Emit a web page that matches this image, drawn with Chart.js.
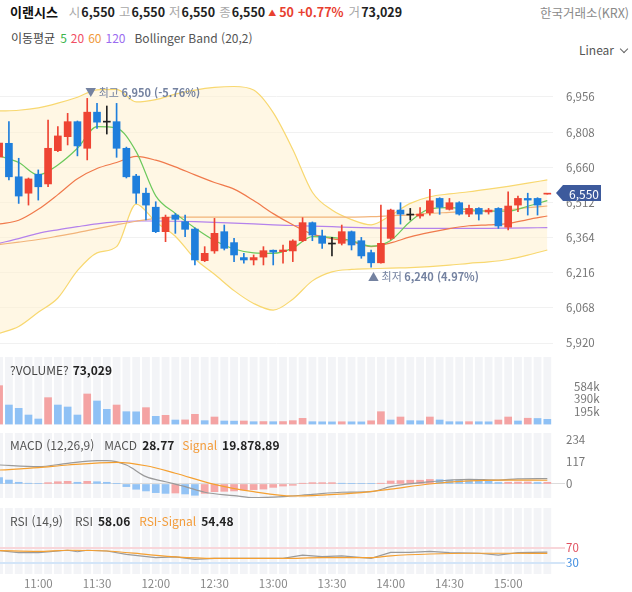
<!DOCTYPE html>
<html lang="ko">
<head>
<meta charset="utf-8">
<title>이랜시스</title>
<script src="https://cdn.jsdelivr.net/npm/chart.js@4.4.1/dist/chart.umd.min.js"></script>
<style>
  body { margin: 0; background: #fff; }
  #wrap { position: relative; width: 632px; height: 592px; overflow: hidden; font-family: 'Noto Sans CJK KR', 'Noto Sans', sans-serif; }
  #wrap canvas { position: absolute; left: 0; }
  .t { position: absolute; white-space: nowrap; line-height: 16px; font-size: 12px; color: #444; }
  .t span { display: inline-block; }
  .b { font-weight: bold; color: #222; }
  .g { color: #a8a8a8; }
  .up { color: #e8402f; font-weight: bold; }
  .o { color: #f39c3a; }
  .chev { display: inline-block; width: 5px; height: 5px; border-right: 1px solid #666; border-bottom: 1px solid #666; transform: rotate(45deg); margin: 0 0 3px 7px; }
</style>
</head>
<body>
<div id="wrap">
  <canvas id="price" width="632" height="297" style="top:58px"></canvas>
  <canvas id="vol" width="632" height="68" style="top:357px"></canvas>
  <canvas id="macd" width="632" height="65" style="top:433px"></canvas>
  <canvas id="rsi" width="632" height="84" style="top:508px"></canvas>

  <div class="t" style="left:10px;top:4px;font-size:12.5px">
    <span class="b" style="color:#111;font-size:13px">이랜시스</span><span class="g" style="margin-left:11px">시</span><span class="b" style="margin-left:1px">6,550</span><span class="g" style="margin-left:4px">고</span><span class="b" style="margin-left:1px">6,550</span><span class="g" style="margin-left:4px">저</span><span class="b" style="margin-left:1px">6,550</span><span class="g" style="margin-left:4px">종</span><span class="b" style="margin-left:1px">6,550</span><span class="up" style="margin-left:3px;font-size:8px;vertical-align:1px">▲</span><span class="up" style="margin-left:3px">50</span><span class="up" style="margin-left:4px">+0.77%</span><span class="g" style="margin-left:5px">거</span><span class="b" style="margin-left:1px">73,029</span>
  </div>
  <div class="t" style="left:540px;top:5px;color:#8a8a8a;font-size:12.5px">한국거래소(KRX)</div>

  <div class="t" style="left:11px;top:30px">
    <span style="color:#444">이동평균</span><span style="margin-left:5px;color:#3cb44b">5</span><span style="margin-left:4px;color:#f04e64">20</span><span style="margin-left:4px;color:#f09a3c">60</span><span style="margin-left:4px;color:#9b6cf0">120</span><span style="margin-left:9px;color:#555">Bollinger Band (20,2)</span>
  </div>
  <div class="t" style="left:579px;top:42px;color:#555">Linear<span class="chev"></span></div>

  <div class="t" style="left:10px;top:362px">
    <span style="color:#444">?VOLUME?</span><span class="b" style="margin-left:4px">73,029</span>
  </div>

  <div class="t" style="left:10px;top:437px">
    <span style="color:#555">MACD (12,26,9)</span><span style="margin-left:10px;color:#555">MACD</span><span class="b" style="margin-left:5px">28.77</span><span class="o" style="margin-left:8px">Signal</span><span class="b" style="margin-left:5px">19.878.89</span>
  </div>

  <div class="t" style="left:10px;top:513px">
    <span style="color:#555">RSI (14,9)</span><span style="margin-left:12px;color:#555">RSI</span><span class="b" style="margin-left:5px">58.06</span><span class="o" style="margin-left:9px">RSI-Signal</span><span class="b" style="margin-left:5px">54.48</span>
  </div>
</div>

<script>
// 5분봉, 10:40 ~ 15:20
const times = ['10:40','10:45','10:50','10:55','11:00','11:05','11:10','11:15','11:20','11:25',
  '11:30','11:35','11:40','11:45','11:50','11:55','12:00','12:05','12:10','12:15',
  '12:20','12:25','12:30','12:35','12:40','12:45','12:50','12:55','13:00','13:05',
  '13:10','13:15','13:20','13:25','13:30','13:35','13:40','13:45','13:50','13:55',
  '14:00','14:05','14:10','14:15','14:20','14:25','14:30','14:35','14:40','14:45',
  '14:50','14:55','15:00','15:05','15:10','15:15','15:20'];
const timeTicks = ['11:00','11:30','12:00','12:30','13:00','13:30','14:00','14:30','15:00'];

const opens  = [6703,6761,6620,6551,6631,6590,6730,6789,6852,6740,6892,6850,6852,6740,6623,6551,6492,6389,6459,6431,
                6400,6267,6308,6389,6343,6280,6270,6282,6311,6305,6308,6351,6427,6371,6337,6340,6389,6351,6301,6258,
                6361,6480,6459,6455,6469,6529,6483,6511,6463,6487,6472,6487,6408,6501,6529,6529,6547];
const highs  = [6901,6852,6698,6615,6649,6859,6831,6887,6855,6950,6929,6918,6929,6745,6630,6572,6515,6459,6466,6459,
                6405,6326,6445,6417,6361,6298,6291,6326,6312,6333,6355,6448,6430,6396,6365,6417,6392,6365,6312,6501,
                6484,6511,6487,6490,6567,6532,6529,6515,6501,6490,6487,6490,6557,6539,6551,6532,6550];
const lows   = [6607,6607,6508,6501,6522,6578,6726,6754,6708,6691,6824,6800,6702,6615,6508,6438,6385,6347,6382,6368,
                6249,6263,6298,6312,6263,6256,6249,6249,6249,6256,6263,6347,6351,6319,6287,6333,6312,6277,6240,6256,
                6356,6421,6438,6446,6459,6462,6480,6459,6452,6438,6463,6403,6396,6473,6459,6459,6547];
const closes = [6762,6620,6539,6611,6578,6740,6792,6852,6750,6892,6850,6850,6740,6620,6551,6501,6389,6450,6441,6399,
                6270,6298,6382,6319,6291,6270,6280,6309,6303,6312,6350,6427,6375,6340,6337,6389,6333,6287,6258,6340,
                6480,6463,6459,6463,6519,6492,6511,6463,6487,6463,6480,6413,6497,6529,6522,6501,6550];
const volumes = [598000,296000,244000,140000,78000,411000,296000,265000,140000,468000,
                 359000,229000,296000,192000,190000,255000,120000,135000,62000,64000,
                 151000,52000,109000,47000,45000,47000,36000,38000,36000,38000,
                 52000,88000,36000,34000,33000,35000,34000,33000,50000,192000,
                 62000,109000,52000,50000,109000,62000,36000,35000,36000,35000,
                 34000,62000,109000,47000,90000,86000,73029];

const priceTicks = [5920,6068,6216,6364,6512,6660,6808,6956];

// 이동평균 / 볼린저 밴드 (2봉 간격 표본)
const maIdx = [0,2,4,6,8,10,12,14,16,18,20,22,24,26,28,30,32,34,36,38,40,42,44,46,48,50,52,54,56];
const ma5   = [6708,6680,6628,6670,6740,6831,6825,6726,6540,6466,6405,6352,6316,6300,6298,6320,6368,6365,6352,6328,6352,6432,6485,6490,6482,6475,6475,6496,6520];
const ma20  = [6421,6437,6483,6545,6612,6655,6680,6706,6690,6662,6628,6596,6568,6520,6465,6418,6379,6360,6347,6326,6342,6367,6386,6402,6414,6418,6423,6440,6455];
const ma60  = [6335,6345,6356,6370,6385,6402,6418,6433,6445,6450,6450,6450,6450,6450,6450,6450,6450,6450,6450,6452,6456,6460,6466,6470,6474,6478,6482,6490,6497];
const ma120 = [6340,6360,6382,6397,6410,6422,6430,6434,6434,6433,6431,6428,6425,6422,6418,6415,6412,6410,6407,6405,6404,6403,6403,6403,6403,6403,6404,6405,6406];
const bbUpper = [6897,6900,6910,6930,6955,6986,6988,6935,6945,6968,6985,6996,7000,6985,6890,6735,6555,6480,6440,6418,6458,6508,6536,6548,6557,6568,6580,6593,6607];
const bbLower = [5961,5990,6050,6110,6225,6300,6326,6505,6430,6370,6275,6210,6141,6087,6059,6105,6182,6220,6230,6233,6236,6238,6242,6248,6256,6262,6272,6290,6312];

const macdHist = [34,21,9,4,3,7,12,14,9,14,12,9,2,-14,-28,-37,-46,-50,-48,-53,
                  -60,-50,-41,-39,-37,-32,-30,-27,-18,-11,-7,4,7,7,7,4,3.5,3,2,4,
                  16,18,20,20,24,23,21,20,18,16,14,8,9,10,10.5,8,8.89];
const macdIdx  = [0,4,7,10,11,13,15,17,19,21,24,26,29,32,35,38,40,44,48,51,53,56];
const macdLine = [101,92,110,124,124,101,39,12,-14,-44,-62,-73,-67,-55,-44,-41,-14,12,25,21,27,28.77];
const signalIdx  = [0,4,7,12,15,18,22,26,30,33,37,40,44,48,51,56];
const signalLine = [74,87,101,115,97,57,-2,-41,-64,-59,-46,-27,0,16,21,19.88];

const rsiIdx  = [0,2,4,7,8,9,11,13,16,18,20,22,26,29,31,33,35,38,40,42,44,46,49,51,53,56];
const rsiLine = [62,56.5,56.5,63,59,63,61,52,43,45,38.5,41,41,41,50,46,48,41,57.5,57.5,60,56.5,55,50,56.5,58.06];
const rsiSigIdx = [0,4,7,11,15,18,22,29,33,38,40,44,48,51,56];
const rsiSignal = [62,60,63,61,52,45,41,41,43,43,48,53,55,55,54.48];

const UP = '#ee4433', DOWN = '#1f7fdc', DOJI = '#222';
const X_MIN = 0.09, X_MAX = 56.58;

Chart.defaults.font.family = "'Noto Sans CJK KR', 'Noto Sans', sans-serif";
Chart.defaults.color = '#777';

const candleColors = closes.map((c, i) => c > opens[i] ? UP : (c < opens[i] ? DOWN : DOJI));
const volColors = volumes.map((v, i) => (i === 0 || v >= volumes[i - 1]) ? '#f4a3a3' : '#8fc1f5');
const histColors = macdHist.map((v, i) => (i > 0 && v >= macdHist[i - 1]) ? '#f5a7a7' : '#93c3f5');

function curve(idx, vals, color, order, extra) {
  return Object.assign({
    type: 'line', data: idx.map((x, k) => ({ x, y: vals[k] })),
    borderColor: color, borderWidth: 1.2, pointRadius: 0,
    cubicInterpolationMode: 'monotone', fill: false, order
  }, extra || {});
}

function xScale(show) {
  return {
    type: 'linear', min: X_MIN, max: X_MAX, bounds: 'data', offset: false, display: show,
    grid: { display: false, drawTicks: false, offset: false }, border: { display: false },
    afterBuildTicks: s => { s.ticks = timeTicks.map(t => ({ value: times.indexOf(t) })); },
    afterFit: s => { if (show) s.height = 18; s.paddingLeft = 0; s.paddingRight = 0; },
    ticks: { callback: v => times[v], autoSkip: false, maxRotation: 0, padding: 3, color: '#888', font: { size: 11.5 } }
  };
}

function yScale(min, max, ticks, fmt, grid, tickOpts) {
  return {
    position: 'right', min, max, bounds: 'data',
    afterBuildTicks: s => { s.ticks = ticks.map(v => ({ value: v })); },
    afterFit: s => { s.width = 79; s.paddingTop = 0; s.paddingBottom = 0; },
    border: { display: false },
    grid: grid,
    ticks: Object.assign({ callback: fmt, padding: 13, color: '#777', font: { size: 11.5 } }, tickOpts || {})
  };
}

// 하단 패널의 세로 줄무늬 배경
const stripes = {
  id: 'stripes',
  beforeDraw(chart) {
    const { ctx, chartArea: a, scales: { x } } = chart;
    ctx.save();
    ctx.fillStyle = '#f3f4f7';
    ctx.fillRect(a.left, a.top, a.width, a.height);
    ctx.strokeStyle = '#ffffff';
    ctx.lineWidth = 2;
    for (let i = 0; i <= times.length; i++) {
      const px = x.getPixelForValue(i - 0.5);
      if (px < a.left || px > a.right) continue;
      ctx.beginPath(); ctx.moveTo(px, a.top); ctx.lineTo(px, a.bottom); ctx.stroke();
    }
    ctx.restore();
  }
};

// 최고/최저 표시 + 현재가 태그
const priceMarks = {
  id: 'priceMarks',
  afterDatasetsDraw(chart) {
    const { ctx, scales: { x, y } } = chart;
    const last = closes[closes.length - 1];
    const hi = Math.max(...highs), lo = Math.min(...lows);
    const hiI = highs.indexOf(hi), loI = lows.indexOf(lo);
    const fmt = v => v.toLocaleString('en-US');
    function mark(px, py, head, tail) {
      ctx.save();
      ctx.textBaseline = 'middle';
      ctx.fillStyle = '#7482a0';
      ctx.font = "11px 'Noto Sans CJK KR'";
      ctx.fillText(head, px, py);
      const w = ctx.measureText(head).width;
      ctx.font = "bold 11px 'Noto Sans CJK KR'";
      ctx.fillText(tail, px + w, py);
      ctx.restore();
    }
    mark(x.getPixelForValue(hiI) - 2, y.getPixelForValue(hi) - 6, '▼ 최고 ',
      fmt(hi) + ' (' + ((last - hi) / hi * 100).toFixed(2) + '%)');
    mark(x.getPixelForValue(loI) - 3, y.getPixelForValue(lo) + 10, '▲ 최저 ',
      fmt(lo) + ' (' + ((last - lo) / lo * 100).toFixed(2) + '%)');
  },
  afterDraw(chart) {
    const { ctx, scales: { y }, chartArea: a } = chart;
    const last = closes[closes.length - 1];
    const py = Math.round(y.getPixelForValue(last));
    const x0 = a.right + 3, h = 16;
    ctx.save();
    ctx.fillStyle = '#3d5a9c';
    ctx.beginPath();
    ctx.moveTo(x0, py);
    ctx.lineTo(x0 + 7, py - h / 2);
    ctx.lineTo(x0 + 45, py - h / 2);
    ctx.lineTo(x0 + 45, py + h / 2);
    ctx.lineTo(x0 + 7, py + h / 2);
    ctx.closePath();
    ctx.fill();
    ctx.fillStyle = '#fff';
    ctx.font = "12px 'Noto Sans CJK KR'";
    ctx.textBaseline = 'middle';
    ctx.fillText(last.toLocaleString('en-US'), x0 + 13, py + 1);
    ctx.restore();
  }
};

const base = {
  responsive: false, animation: false,
  layout: { padding: 0 },
  plugins: { legend: { display: false }, tooltip: { enabled: false } }
};

new Chart(document.getElementById('price'), {
  type: 'bar',
  data: {
    datasets: [
      { type: 'bar', data: times.map((t, i) => ({ x: i, y: [opens[i], closes[i]] })),
        backgroundColor: candleColors, barThickness: 7, minBarLength: 1, grouped: false, order: 1 },
      { type: 'bar', data: times.map((t, i) => ({ x: i, y: [lows[i], highs[i]] })),
        backgroundColor: candleColors, barThickness: 1, grouped: false, order: 2 },
      curve(maIdx, ma5, '#6cc95c', 3),
      curve(maIdx, ma20, '#f07a4c', 4),
      curve(maIdx, ma60, '#f2b47a', 5),
      curve(maIdx, ma120, '#b482ec', 6),
      curve(maIdx, bbUpper, '#f8d870', 7),
      curve(maIdx, bbLower, '#f8d870', 8, { fill: '-1', backgroundColor: 'rgba(255,240,205,0.55)' })
    ]
  },
  options: Object.assign({}, base, {
    scales: {
      x: xScale(false),
      y: yScale(5870, 7120, priceTicks, v => v.toLocaleString('en-US'),
        { color: '#f1f1f1', drawTicks: false })
    }
  }),
  plugins: [priceMarks]
});

new Chart(document.getElementById('vol'), {
  type: 'bar',
  data: { datasets: [
    { data: times.map((t, i) => ({ x: i, y: volumes[i] })), backgroundColor: volColors, barThickness: 7 }
  ] },
  options: Object.assign({}, base, {
    scales: {
      x: xScale(false),
      y: yScale(-15600, 1045000, [195000, 390000, 584000], v => Math.round(v / 1000) + 'k',
        { display: false })
    }
  }),
  plugins: [stripes]
});

new Chart(document.getElementById('macd'), {
  type: 'bar',
  data: { datasets: [
    { type: 'bar', data: times.map((t, i) => ({ x: i, y: macdHist[i] })), backgroundColor: histColors, barThickness: 7, order: 3 },
    curve(macdIdx, macdLine, '#9a9a9a', 2),
    curve(signalIdx, signalLine, '#f5a031', 1)
  ] },
  options: Object.assign({}, base, {
    scales: {
      x: xScale(false),
      y: yScale(-74.5, 271, [0, 117, 234], v => String(v),
        { drawTicks: true, tickLength: 12,
          color: c => c.tick && c.tick.value === 0 ? '#dcdcdc' : 'rgba(0,0,0,0)',
          tickColor: c => c.tick && c.tick.value === 0 ? '#dcdcdc' : 'rgba(0,0,0,0)' },
        { padding: 1 })
    }
  }),
  plugins: [stripes]
});

new Chart(document.getElementById('rsi'), {
  type: 'line',
  data: { datasets: [
    curve(rsiIdx, rsiLine, '#9a9a9a', 2, { cubicInterpolationMode: 'default', tension: 0 }),
    curve(rsiSigIdx, rsiSignal, '#f5a031', 1)
  ] },
  options: Object.assign({}, base, {
    scales: {
      x: xScale(true),
      y: yScale(-1, 177, [30, 70], v => String(v),
        { drawTicks: true, tickLength: 12, lineWidth: 2,
          color: c => c.tick && c.tick.value === 70 ? '#f8d6da' : '#d3e5f8',
          tickColor: c => c.tick && c.tick.value === 70 ? '#f8d6da' : '#d3e5f8' },
        { padding: 1, color: c => c.tick && c.tick.value === 70 ? '#e0505f' : '#3d8be0' })
    }
  }),
  plugins: [stripes]
});
</script>
</body>
</html>
